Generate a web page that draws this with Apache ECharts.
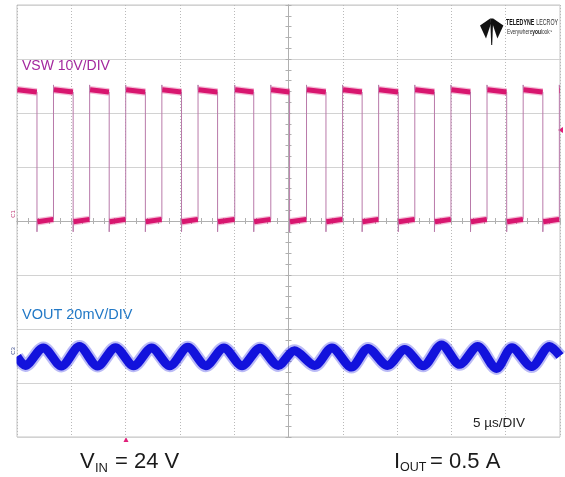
<!DOCTYPE html>
<html><head><meta charset="utf-8">
<script src="https://cdn.jsdelivr.net/npm/echarts@6/dist/echarts.min.js"></script>
<style>html,body{margin:0;padding:0;background:#fff}#c{width:565px;height:477px}</style>
</head><body><div id="c"></div>
<script>
// ---- data (time in µs relative to screen centre) ----
const timeRange = [-25, 25];            // 10 div x 5 µs/DIV
const vswRange = [-40, 40];             // 8 div x 10 V/DIV, ground on centre line
const voutRange = [-32, 128];           // 8 div x 20 mV/DIV, C3 ground marker level = 0
// VSW switching edges (µs)
const vswFallTimes = [-23.16, -19.83, -16.51, -13.18, -9.85, -6.53, -3.20, 0.10, 3.45, 6.78, 10.11, 13.44, 16.76, 20.09, 23.42];
const vswRiseTimes = [-21.64, -18.31, -14.99, -11.66, -8.33, -4.95, -1.63, 1.66, 4.98, 8.30, 11.63, 14.96, 18.28, 21.61, 24.94];
// VSW levels (V)
const vswHighStart = [24.3];
const vswHighEnd = [23.9];
const vswLowStart = [-0.15];
const vswLowEnd = [0.3];
const vswUndershoot = [-2.0];
const vswOvershoot = [25.2];
// VOUT ripple extremes (µs, mV)
const voutStart = [-25, -2.2];
const voutPeakTimes = [-22.58, -19.25, -15.93, -12.60, -9.27, -5.95, -2.62, 0.55, 4.00, 7.32, 10.70, 14.10, 17.42, 20.58, 24.04];
const voutPeakValues = [1.0, 1.5, 1.1, 1.0, 1.2, 1.0, 0.9, -0.1, 1.0, 0.8, 0.4, 2.1, 1.5, 1.1, 1.5];
const voutTroughTimes = [-24.24, -20.91, -17.59, -14.26, -10.93, -7.61, -4.28, -0.95, 2.42, 5.80, 9.12, 12.40, 15.76, 19.15, 22.38];
const voutTroughValues = [-5.5, -5.7, -5.7, -5.6, -5.6, -5.6, -5.6, -5.5, -5.5, -6.1, -5.5, -5.6, -5.1, -6.6, -5.9];
const voutEnd = [25, -2.0];

// ---- build series data ----
const edgePath = [[timeRange[0], vswHighStart[0]]];
const flatSegs = [];
let prevRise = timeRange[0];
for (let k = 0; k < vswFallTimes.length; k++) {
  const f = vswFallTimes[k], r = vswRiseTimes[k];
  flatSegs.push({coords: [[prevRise + 0.04, vswHighStart[0]], [f - 0.02, vswHighEnd[0]]]});
  edgePath.push([f, vswHighEnd[0]], [f, vswUndershoot[0]], [f + 0.02, vswLowStart[0]]);
  flatSegs.push({coords: [[f + 0.04, vswLowStart[0]], [r - 0.02, vswLowEnd[0]]]});
  edgePath.push([r, vswLowEnd[0]], [r, vswOvershoot[0]], [r + 0.02, vswHighStart[0]]);
  prevRise = r;
}
if (prevRise < timeRange[1]) {
  flatSegs.push({coords: [[prevRise + 0.02, vswHighStart[0]], [timeRange[1], vswHighStart[0]]]});
  edgePath.push([timeRange[1], vswHighStart[0]]);
}
const voutData = [voutStart];
for (let k = 0; k < voutTroughTimes.length; k++) {
  voutData.push([voutTroughTimes[k], voutTroughValues[k]]);
  if (k < voutPeakTimes.length) voutData.push([voutPeakTimes[k], voutPeakValues[k]]);
}
voutData.push(voutEnd);

const F = 'Liberation Sans, Arial, Helvetica, sans-serif';
const gridC = '#b9b9b9';
const ctrAxis = (pos) => ({
  type: 'value', position: pos,
  axisLine: {show: true, onZero: true, onZeroAxisIndex: 0, lineStyle: {color: '#b0b0b0', width: 1}},
  axisTick: {show: true, length: 3, lineStyle: {color: '#b0b0b0'}},
  minorTick: {show: true, splitNumber: 5, length: 3, lineStyle: {color: '#b0b0b0'}},
  axisLabel: {show: false}
});

const chart = echarts.init(document.getElementById('c'), null, {renderer: 'canvas'});
chart.setOption({
  animation: false,
  backgroundColor: '#fff',
  grid: {left: 17, top: 5, width: 543, height: 432, show: true, borderColor: '#c4c4c4', borderWidth: 1, backgroundColor: 'transparent'},
  xAxis: [
    Object.assign(ctrAxis('bottom'), {min: timeRange[0], max: timeRange[1], interval: 5,
      splitLine: {show: true, lineStyle: {color: gridC, type: [1, 2], width: 1}}}),
    Object.assign(ctrAxis('top'), {min: timeRange[0], max: timeRange[1], interval: 5, splitLine: {show: false}})
  ],
  yAxis: [
    Object.assign(ctrAxis('left'), {min: vswRange[0], max: vswRange[1], interval: 10,
      splitLine: {show: true, lineStyle: {color: '#d2d2d2', type: 'solid', width: 1}}}),
    Object.assign(ctrAxis('right'), {min: vswRange[0], max: vswRange[1], interval: 10, splitLine: {show: false}}),
    {type: 'value', min: voutRange[0], max: voutRange[1], interval: 20, show: false}
  ],
  series: [
    {name: 'VSW edges', type: 'line', xAxisIndex: 0, yAxisIndex: 0, data: edgePath, showSymbol: false,
      lineStyle: {color: '#b97aaa', width: 1}, z: 3},
    {name: 'VSW noise', type: 'lines', coordinateSystem: 'cartesian2d', xAxisIndex: 0, yAxisIndex: 0, data: flatSegs,
      lineStyle: {color: 'rgba(220,30,120,0.3)', width: 7.5, opacity: 1, cap: 'butt'}, z: 4},
    {name: 'VSW', type: 'lines', coordinateSystem: 'cartesian2d', xAxisIndex: 0, yAxisIndex: 0, data: flatSegs,
      lineStyle: {color: '#d8166f', width: 5, opacity: 1, cap: 'butt'}, z: 5},
    {name: 'VOUT noise', type: 'line', xAxisIndex: 0, yAxisIndex: 2, data: voutData, showSymbol: false, smooth: 0.3,
      lineStyle: {color: 'rgba(25,25,225,0.3)', width: 13, cap: 'butt'}, z: 4},
    {name: 'VOUT', type: 'line', xAxisIndex: 0, yAxisIndex: 2, data: voutData, showSymbol: false, smooth: 0.3,
      lineStyle: {color: '#1212dc', width: 9, cap: 'butt'}, z: 5}
  ],
  graphic: [
    // white margin left of the screen so traces end at the graticule edge
    {type: 'rect', shape: {x: 0, y: 320, width: 16.5, height: 60}, style: {fill: '#fff'}, z: 10},
    {type: 'text', left: 22, top: 59, style: {text: 'VSW 10V/DIV', fill: '#a3279e', font: '14px ' + F}},
    {type: 'text', left: 22, top: 307, style: {text: 'VOUT 20mV/DIV', fill: '#2178c6', font: '14.5px ' + F}},
    {type: 'text', left: 473, top: 416, style: {text: '5 µs/DIV', fill: '#222', font: '13.5px ' + F}},
    // V_IN
    {type: 'text', x: 80, y: 462, style: {text: 'V', fill: '#1a1a1a', font: '22px ' + F, verticalAlign: 'middle'}},
    {type: 'text', x: 95, y: 468, style: {text: 'IN', fill: '#1a1a1a', font: '13px ' + F, verticalAlign: 'middle'}},
    {type: 'text', x: 115, y: 462, style: {text: '= 24 V', fill: '#1a1a1a', font: '22px ' + F, verticalAlign: 'middle'}},
    // I_OUT
    {type: 'text', x: 394, y: 462, style: {text: 'I', fill: '#1a1a1a', font: '22px ' + F, verticalAlign: 'middle'}},
    {type: 'text', x: 400, y: 468, style: {text: 'OUT', fill: '#1a1a1a', font: '12.5px ' + F, verticalAlign: 'middle'}},
    {type: 'text', x: 430, y: 462, style: {text: '= 0.5 A', fill: '#1a1a1a', font: '22px ' + F, verticalAlign: 'middle'}},
    // logo
    {type: 'polygon', shape: {points: [[480, 25.5], [490.2, 18.5], [491, 23.5], [486, 38.5]]}, style: {fill: '#111'}},
    {type: 'polygon', shape: {points: [[503.4, 25.5], [493.2, 18.5], [492.4, 23.5], [497.4, 38.5]]}, style: {fill: '#111'}},
    {type: 'polygon', shape: {points: [[490.2, 18.5], [493.2, 18.5], [492.2, 45], [491.2, 45]]}, style: {fill: '#111'}},
    {type: 'text', x: 506, y: 22, scaleX: 0.56, style: {text: '{b|TELEDYNE} {n|LECROY}', verticalAlign: 'middle',
      rich: {b: {font: 'bold 9.5px ' + F, fill: '#111'},
             n: {font: '9.5px ' + F, fill: '#333'}}}},
    {type: 'text', x: 507, y: 31.5, scaleX: 0.6, style: {text: '{n|Everywhere}{b|you}{n|look}{t|™}', verticalAlign: 'middle',
      rich: {b: {font: 'bold 8px ' + F, fill: '#111'},
             n: {font: '8px ' + F, fill: '#333'},
             t: {font: '4px ' + F, fill: '#333'}}}},
    // channel ground markers and trigger markers
    {type: 'text', x: 13, y: 214, rotation: Math.PI / 2, z: 11, style: {text: 'C1', fill: '#c0407a', font: '6px ' + F, align: 'center', verticalAlign: 'middle'}},
    {type: 'text', x: 13, y: 351, rotation: Math.PI / 2, z: 11, style: {text: 'C3', fill: '#3a4a8a', font: '6px ' + F, align: 'center', verticalAlign: 'middle'}},
    {type: 'polygon', shape: {points: [[126, 437], [123.5, 442], [128.5, 442]]}, style: {fill: '#e0207a'}},
    {type: 'polygon', shape: {points: [[558, 130], [563, 127], [563, 133]]}, style: {fill: '#e0207a'}}
  ]
});
</script></body></html>
